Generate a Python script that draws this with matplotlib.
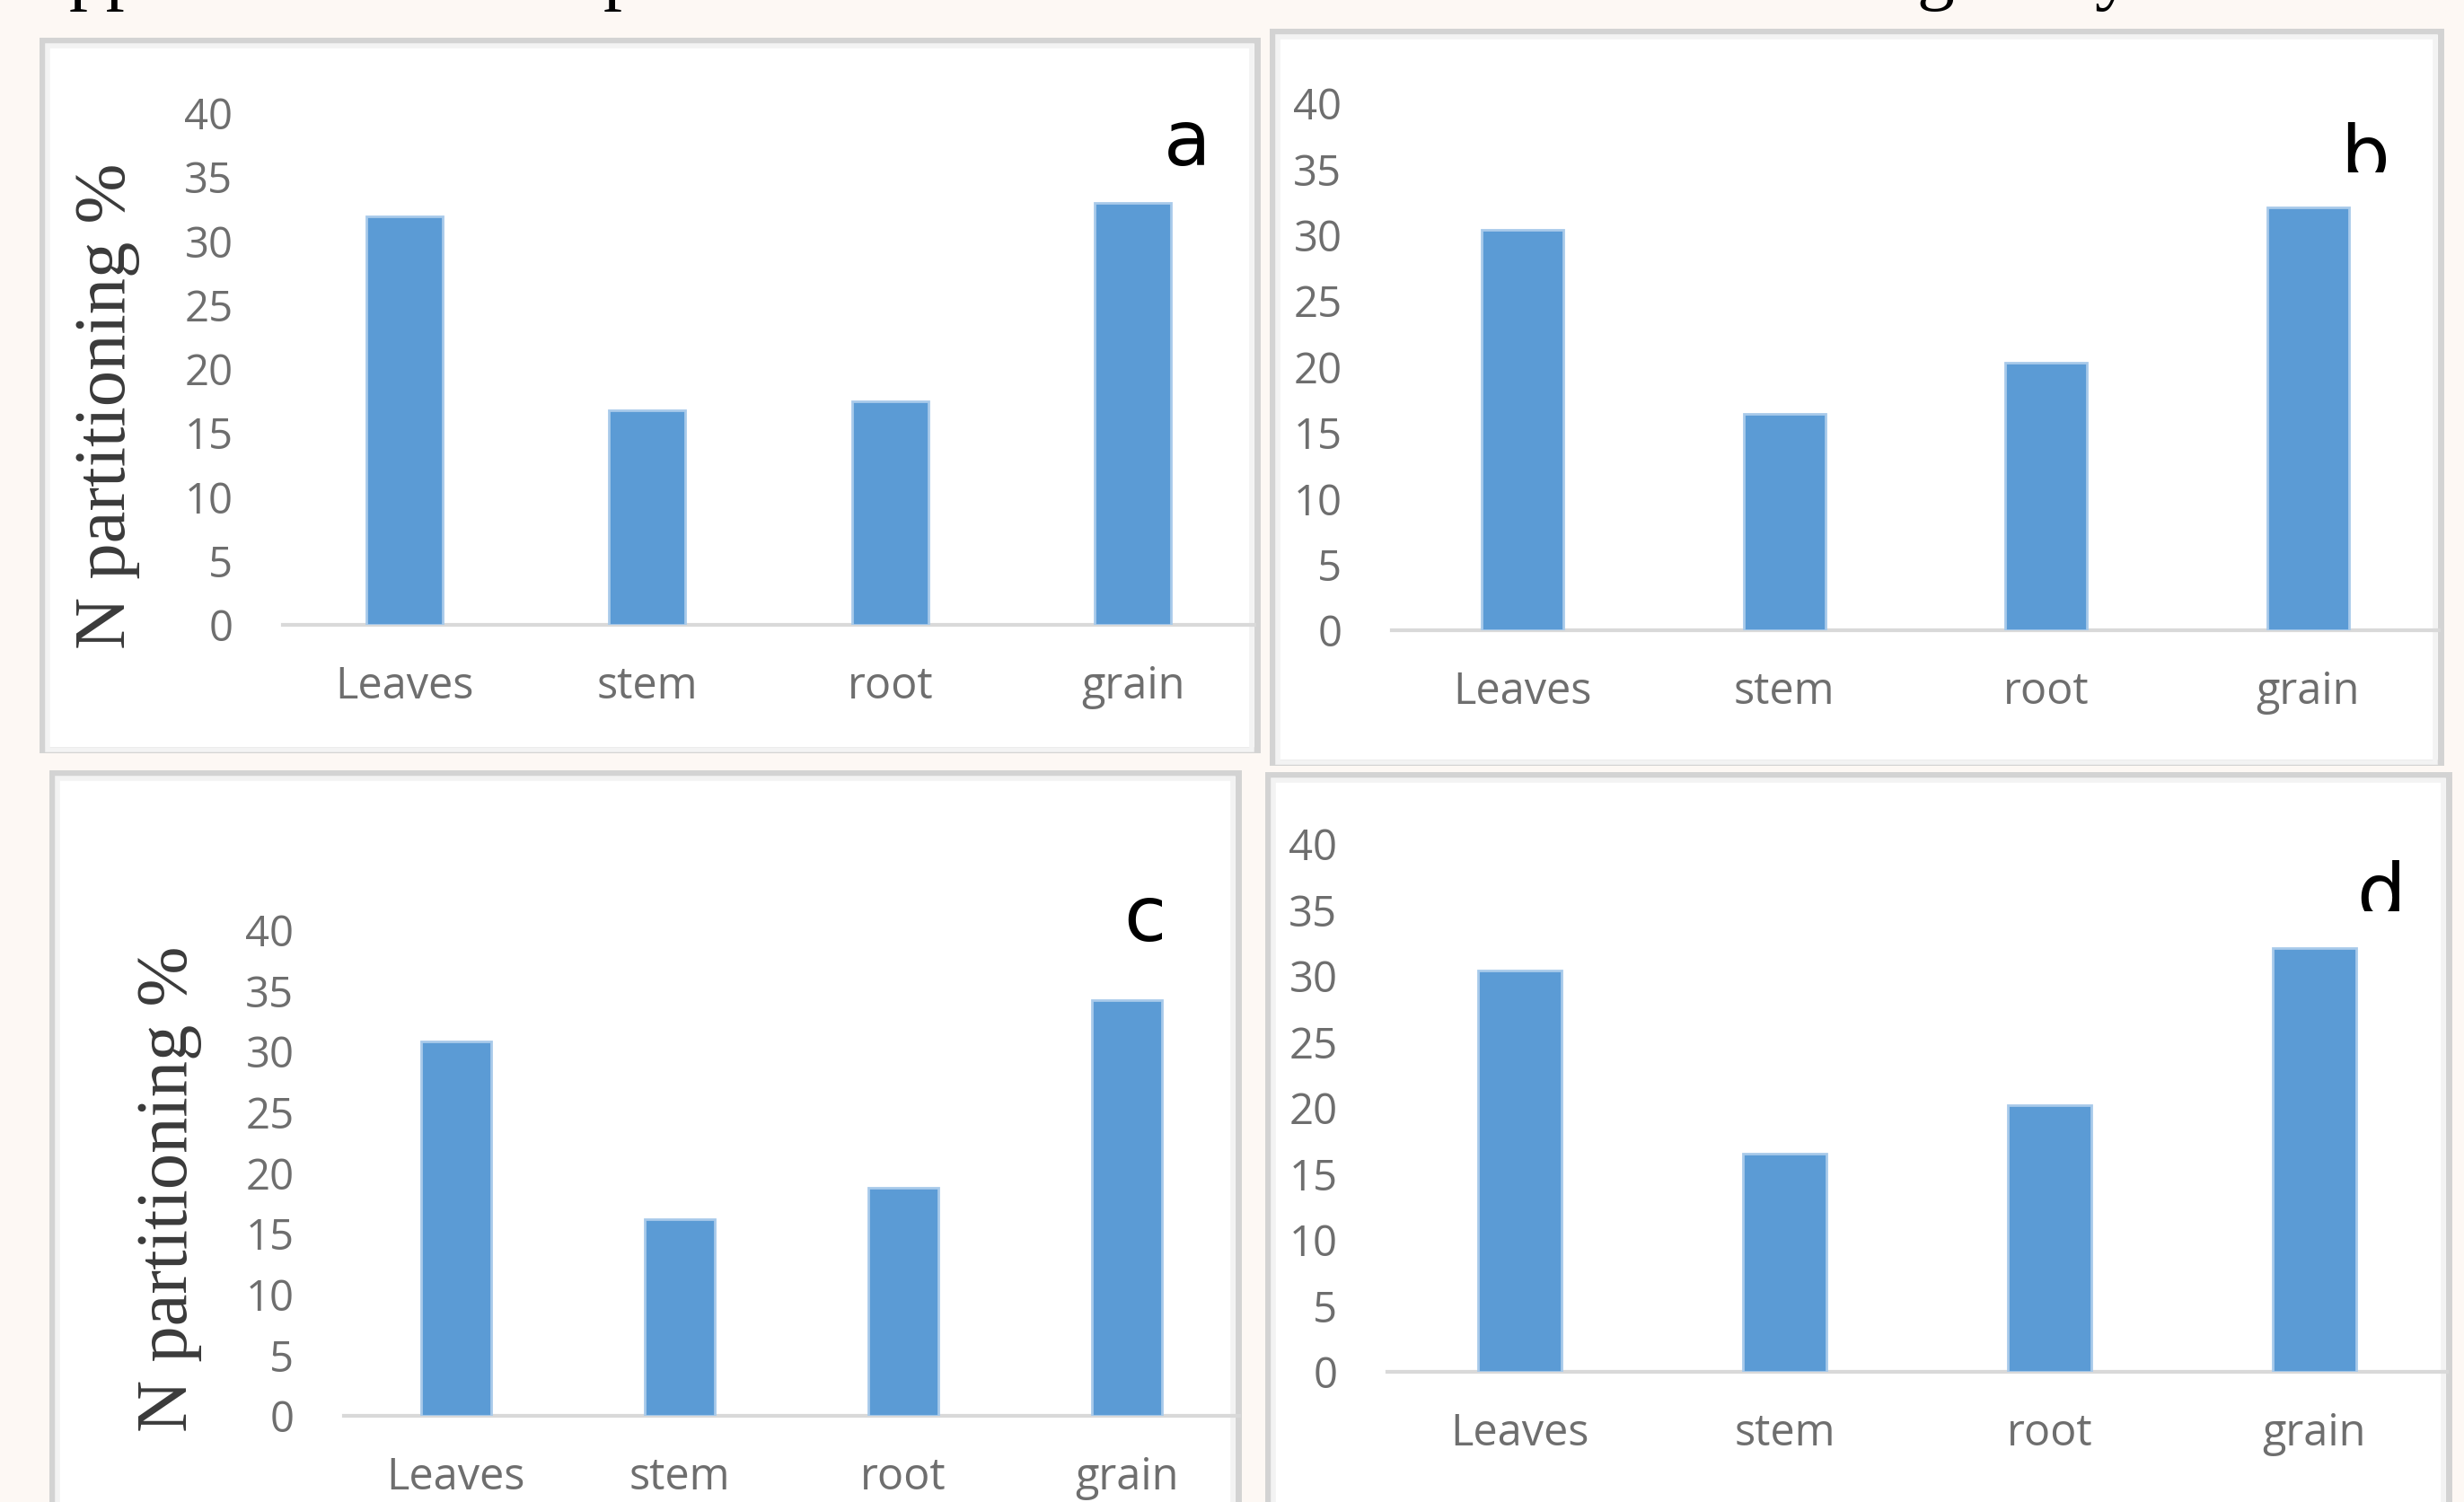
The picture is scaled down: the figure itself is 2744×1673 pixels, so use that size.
import matplotlib
matplotlib.use("Agg")
import matplotlib.pyplot as plt
from matplotlib.patches import Rectangle
from matplotlib.transforms import Bbox, TransformedBbox

# N partitioning between plant organs, four treatments
categories = ['Leaves', 'stem', 'root', 'grain']
vals_a = [31.9, 16.8, 17.5, 33.0]
vals_b = [30.4, 16.4, 20.3, 32.1]
vals_c = [30.8, 16.2, 18.8, 34.2]
vals_d = [30.4, 16.5, 20.2, 32.1]
yticks = [0, 5, 10, 15, 20, 25, 30, 35, 40]

W, H = 2744, 1673
BG = '#FDF8F4'
BAR = '#5B9BD5'
GRAY = '#6E6E6E'


def fx(x):
    return x / W


def fy(y):
    return 1 - y / H


fig = plt.figure(figsize=(W / 100, H / 100), dpi=100, facecolor=BG)

# descenders of the body text line above the figure
for s, x in [('pp', 77), ('p', 672), ('g', 2134), ('y', 2333)]:
    fig.text(fx(x), fy(-5), s, fontsize=60, family='Liberation Serif',
             color='black', ha='left', va='baseline')


def panel(frame, box, vals, letter, letter_xy, ylab_xy=None, clip_y=None):
    x0, y0, x1, y1 = frame
    fig.add_artist(Rectangle((fx(x0), fy(y1)), fx(x1 - x0), (y1 - y0) / H,
                             transform=fig.transFigure, facecolor='white',
                             edgecolor='#D3D3D3', linewidth=5, zorder=-3))
    fig.add_artist(Rectangle((fx(x0 + 6), fy(y1)), fx(x1 - x0 - 12), (y1 - y0 - 6) / H,
                             transform=fig.transFigure, facecolor='none',
                             edgecolor='#F3F3F3', linewidth=4, zorder=-2))

    l, t, r, b = box
    ax = fig.add_axes([fx(l), fy(b), fx(r - l), (b - t) / H])
    ax.set_facecolor('none')
    ax.bar(range(len(categories)), vals, width=0.313, color=BAR,
           edgecolor='#A8CAEA', linewidth=2)
    ax.set_xlim(-0.5, 3.5)
    ax.set_ylim(0, 40)
    ax.set_yticks(yticks)
    ax.set_xticks(range(len(categories)))
    ax.set_xticklabels(categories)
    for side in ['top', 'right', 'left']:
        ax.spines[side].set_visible(False)
    ax.spines['bottom'].set_color('#D9D9D9')
    ax.spines['bottom'].set_linewidth(3)
    ax.spines['bottom'].set_zorder(0.5)
    ax.tick_params(axis='y', length=0, pad=40, labelsize=34, labelcolor=GRAY)
    ax.tick_params(axis='x', length=0, pad=32, labelsize=35, labelcolor=GRAY)
    for lab in ax.get_xticklabels() + ax.get_yticklabels():
        lab.set_family('Open Sans')

    if ylab_xy is not None:
        fig.text(fx(ylab_xy[0]), fy(ylab_xy[1]), 'N partitioning %',
                 rotation=90, ha='center', va='center', fontsize=58,
                 family='Liberation Serif', color='#3A3A3A')

    txt = fig.text(fx(letter_xy[0]), fy(letter_xy[1]), letter, fontsize=62,
                   family='DejaVu Sans', color='black', ha='center',
                   va='baseline')
    if clip_y is not None:
        txt.set_clip_box(TransformedBbox(
            Bbox.from_extents(0, fy(clip_y), 1, 1), fig.transFigure))
        txt.set_clip_on(True)
    return ax


panel((47, 45, 1400, 835), (315, 126, 1397, 696), vals_a, 'a', (1322, 184),
      ylab_xy=(119, 452))
panel((1417, 35, 2718, 849), (1550, 115, 2716, 702), vals_b, 'b', (2634, 200),
      clip_y=192)
panel((58, 861, 1379, 1700), (383, 1036, 1380, 1577), vals_c, 'c', (1275, 1048),
      ylab_xy=(189, 1324))
panel((1412, 863, 2727, 1700), (1545, 940, 2725, 1528), vals_d, 'd', (2652, 1022),
      clip_y=1015)

fig.savefig('out.png', dpi=100, facecolor=BG)
